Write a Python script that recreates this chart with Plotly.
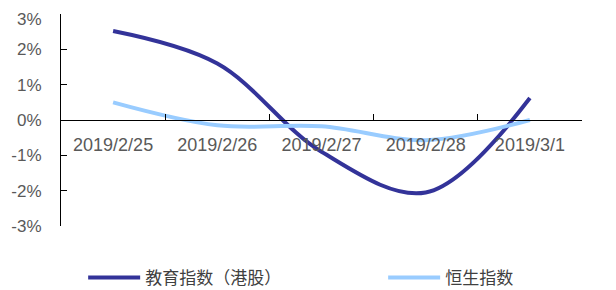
import plotly.graph_objects as go

dates = ["2019/2/25", "2019/2/26", "2019/2/27", "2019/2/28", "2019/3/1"]
edu = [2.52, 1.6, -0.9, -2.05, 0.62]
hsi = [0.5, -0.15, -0.18, -0.57, 0.0]
y_ticks = [3, 2, 1, 0, -1, -2, -3]
y_labels = ["3%", "2%", "1%", "0%", "-1%", "-2%", "-3%"]

fig = go.Figure()
fig.add_trace(go.Scatter(x=dates, y=edu, name="教育指数（港股）", mode="lines",
                         legend="legend",
                         line=dict(color="#333399", width=4, shape="spline", smoothing=1.0)))
fig.add_trace(go.Scatter(x=dates, y=hsi, name="恒生指数", mode="lines",
                         legend="legend2",
                         line=dict(color="#99CCFF", width=4, shape="spline", smoothing=1.0)))

# top tick label is drawn as an annotation nudged down so it is not clipped at the edge
tick_text = [""] + y_labels[1:]
fig.add_annotation(x=0, xref="paper", y=y_ticks[0], yref="y", text=y_labels[0],
                   showarrow=False, xanchor="right", yanchor="middle",
                   xshift=-17, yshift=-5,
                   font=dict(size=17, color="#595959", family="Liberation Sans, Arial"))

font_family = "Liberation Sans, Arial, Noto Sans CJK SC"
leg_common = dict(orientation="h", xref="container", yref="container",
                  xanchor="left", yanchor="middle", y=0.069, itemwidth=52,
                  bgcolor="rgba(0,0,0,0)",
                  font=dict(size=17, color="#404040", family="Noto Sans CJK SC"))
fig.update_layout(
    width=616, height=290,
    margin=dict(l=53, r=42, t=6, b=72, autoexpand=False),
    plot_bgcolor="white", paper_bgcolor="white",
    font=dict(family=font_family, size=17, color="#595959"),
    showlegend=True,
    legend=dict(x=0.122, **leg_common),
    legend2=dict(x=0.609, **leg_common),
    xaxis=dict(type="category", anchor="free", position=0.5, showline=True,
               range=[-0.5, 4.5],
               linecolor="black", linewidth=1, ticks="inside", ticklen=6,
               tickcolor="black", tickson="boundaries", showgrid=False,
               zeroline=False, ticklabelstandoff=8,
               tickfont=dict(size=18, color="#595959")),
    yaxis=dict(range=[-3, 3], tickvals=y_ticks, ticktext=tick_text, showline=True,
               linecolor="black", linewidth=1, ticks="inside", ticklen=6,
               tickcolor="black", showgrid=False, zeroline=False,
               ticklabelstandoff=15, ticklabeloverflow="allow",
               tickfont=dict(size=17, color="#595959")),
)
fig.write_html("out.html")
